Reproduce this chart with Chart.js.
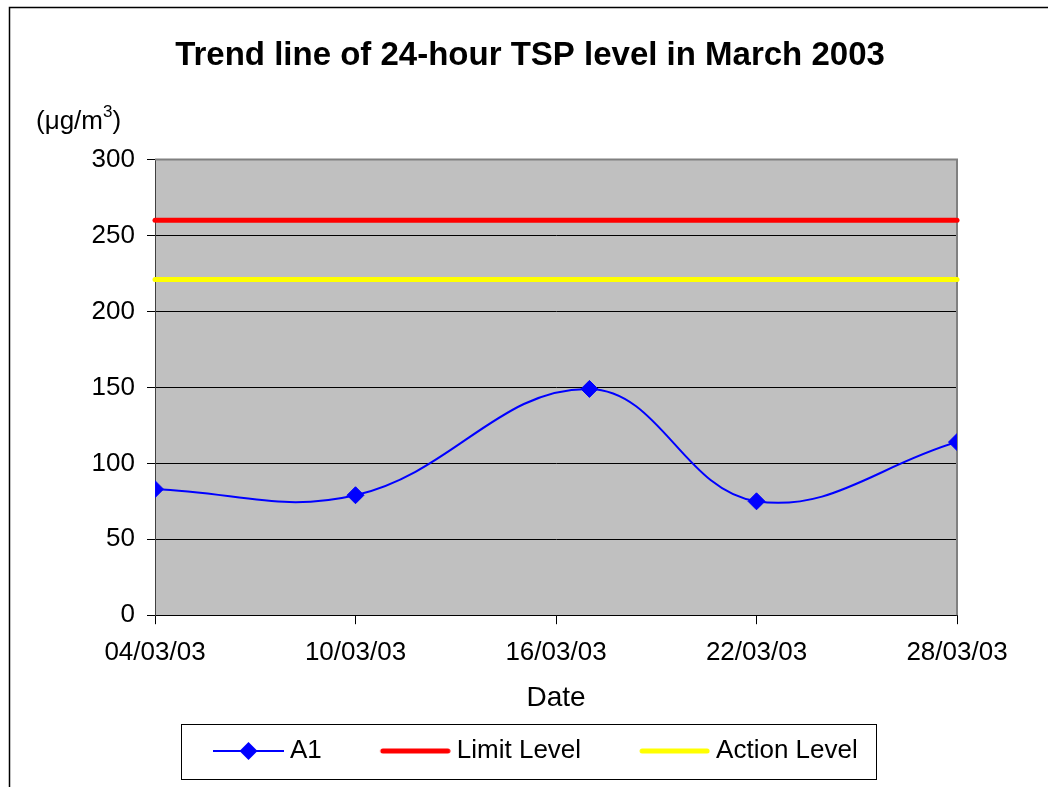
<!DOCTYPE html>
<html>
<head>
<meta charset="utf-8">
<script src="https://cdn.jsdelivr.net/npm/chart.js@4.4.0/dist/chart.umd.min.js"></script>
<style>
body { margin: 0; background: #fff; }
#wrap { width: 1048px; height: 787px; }
</style>
</head>
<body>
<div id="wrap"><canvas id="tspChart" width="1048" height="787"></canvas></div>
<script>
// sampling days in March 2003 and the 24-hour TSP at A1 (ug/m3)
var sample_days = [4, 10, 17, 22, 28];
var a1_values = [83, 79, 149, 75, 114];
var limit_level = 260;
var action_level = 221;
var day_range = [4, 28];
var tick_month = '03';
var tick_year = '03';

var FONT = "'Liberation Sans', Arial, sans-serif";

function level_line(v) {
    return day_range.map(function (d) { return {x: d, y: v} })
}

// legend sample: line drawn at the right end of a wider transparent image
function legend_icon(color, width, diamond) {
    var c = document.createElement('canvas');
    c.width = 126;
    c.height = 24;
    var ctx = c.getContext('2d');
    ctx.strokeStyle = color;
    ctx.lineWidth = width;
    ctx.lineCap = diamond ? 'butt' : 'round';
    ctx.beginPath();
    ctx.moveTo(126 - 71 + (diamond ? 0 : 3), 12);
    ctx.lineTo(126 - (diamond ? 0 : 3), 12);
    ctx.stroke();
    if (diamond) {
        var cx = 126 - 35.5;
        ctx.fillStyle = color;
        ctx.beginPath();
        ctx.moveTo(cx - 9, 12);
        ctx.lineTo(cx, 3);
        ctx.lineTo(cx + 9, 12);
        ctx.lineTo(cx, 21);
        ctx.closePath();
        ctx.fill();
    }
    return c;
}

var icons = [
    legend_icon('#0000FF', 2, true),
    legend_icon('#FF0000', 5, false),
    legend_icon('#FFFF00', 5, false)
];

var decorations = {
    id: 'decorations',
    beforeDraw: function (chart) {
        var a = chart.chartArea, ctx = chart.ctx;
        ctx.save();
        ctx.fillStyle = '#C0C0C0';
        ctx.fillRect(a.left, a.top, a.right - a.left, a.bottom - a.top);
        ctx.restore();
    },
    beforeDatasetsDraw: function (chart) {
        var a = chart.chartArea, ctx = chart.ctx;
        ctx.save();
        ctx.strokeStyle = '#808080';
        ctx.lineWidth = 2;
        ctx.beginPath();
        ctx.moveTo(a.left, a.top);
        ctx.lineTo(a.right, a.top);
        ctx.lineTo(a.right, a.bottom);
        ctx.stroke();
        ctx.restore();
    },
    afterDraw: function (chart) {
        var ctx = chart.ctx;
        ctx.save();
        // outer frame
        ctx.strokeStyle = '#000';
        ctx.lineWidth = 1.5;
        ctx.strokeRect(9.5, 7.5, 2000, 2000);

        // unit label
        ctx.fillStyle = '#000';
        ctx.textBaseline = 'middle';
        ctx.textAlign = 'left';
        ctx.font = '26px ' + FONT;
        var x = 36;
        ctx.fillText('(\u03BCg/m', x, 122);
        x += ctx.measureText('(\u03BCg/m').width;
        ctx.font = '17px ' + FONT;
        ctx.fillText('3', x, 112);
        x += ctx.measureText('3').width;
        ctx.font = '26px ' + FONT;
        ctx.fillText(')', x, 122);

        // legend border
        var hb = chart.legend.legendHitBoxes;
        if (hb && hb.length) {
            var left = hb[0].left + 48 - 32;
            var right = hb[hb.length - 1].left + hb[hb.length - 1].width + 18;
            var cy = hb[0].top + hb[0].height / 2;
            ctx.strokeStyle = '#000';
            ctx.lineWidth = 1;
            ctx.strokeRect(Math.round(left) + 0.5, Math.round(cy - 27) + 0.5, Math.round(right - left), 55);
        }
        ctx.restore();
    }
};

var tspCanvas = document.getElementById('tspChart');

var tspChart = new Chart(tspCanvas, {
    type: 'line',
    data: {
        datasets: [{
            label: 'A1',
            data: sample_days.map(function (d, i) { return {x: d, y: a1_values[i]} }),
            borderColor: '#0000FF',
            backgroundColor: '#0000FF',
            borderWidth: 2,
            pointStyle: 'rectRot',
            pointRadius: 8.5,
            pointBorderWidth: 1,
            tension: 0.4,
            fill: false
        }, {
            label: 'Limit Level',
            data: level_line(limit_level),
            borderColor: '#FF0000',
            borderWidth: 5,
            borderCapStyle: 'round',
            pointRadius: 0,
            clip: false
        }, {
            label: 'Action Level',
            data: level_line(action_level),
            borderColor: '#FFFF00',
            borderWidth: 5,
            borderCapStyle: 'round',
            pointRadius: 0,
            clip: false
        }]
    },
    options: {
        responsive: false,
        animation: false,
        layout: {
            padding: {left: 40, right: 28, top: 0, bottom: 13}
        },
        scales: {
            x: {
                type: 'linear',
                min: day_range[0],
                max: day_range[1],
                ticks: {
                    stepSize: 6,
                    padding: 13,
                    color: '#000',
                    maxRotation: 0,
                    autoSkip: false,
                    font: {size: 26, family: FONT},
                    callback: function (v) {
                        return (v < 10 ? '0' : '') + v + '/' + tick_month + '/' + tick_year;
                    }
                },
                grid: {drawOnChartArea: false, drawTicks: true, tickLength: 9, color: '#000'},
                border: {color: '#000', width: 1},
                title: {
                    display: true,
                    text: 'Date',
                    color: '#000',
                    font: {size: 28, family: FONT},
                    padding: {top: 0, bottom: 13}
                }
            },
            y: {
                min: 0,
                max: 300,
                ticks: {
                    stepSize: 50,
                    padding: 12,
                    color: '#000',
                    font: {size: 26, family: FONT}
                },
                grid: {color: '#000', tickLength: 8},
                border: {color: '#404040', width: 1},
                afterFit: function (scale) { scale.width = 115 }
            },
            // empty right-hand axis, only keeps the plot's right edge in place
            y2: {
                position: 'right',
                min: 0,
                max: 300,
                ticks: {display: false},
                grid: {display: false},
                border: {display: false},
                afterFit: function (scale) { scale.width = 63 }
            }
        },
        plugins: {
            title: {
                display: true,
                text: 'Trend line of 24-hour TSP level in March 2003',
                color: '#000',
                font: {size: 33, weight: 'bold', family: FONT},
                padding: {top: 36, bottom: 84}
            },
            legend: {
                position: 'bottom',
                fullSize: false,
                align: 'start',
                labels: {
                    usePointStyle: true,
                    pointStyleWidth: 112,
                    padding: 10,
                    color: '#000',
                    font: {size: 26, family: FONT},
                    generateLabels: function (chart) {
                        return chart.data.datasets.map(function (ds, i) {
                            return {
                                text: ds.label,
                                pointStyle: icons[i],
                                fillStyle: 'rgba(0,0,0,0)',
                                strokeStyle: 'rgba(0,0,0,0)',
                                lineWidth: 0,
                                hidden: false,
                                datasetIndex: i,
                                fontColor: '#000'
                            };
                        });
                    }
                }
            },
            tooltip: {enabled: false}
        }
    },
    plugins: [decorations]
});
</script>
</body>
</html>
